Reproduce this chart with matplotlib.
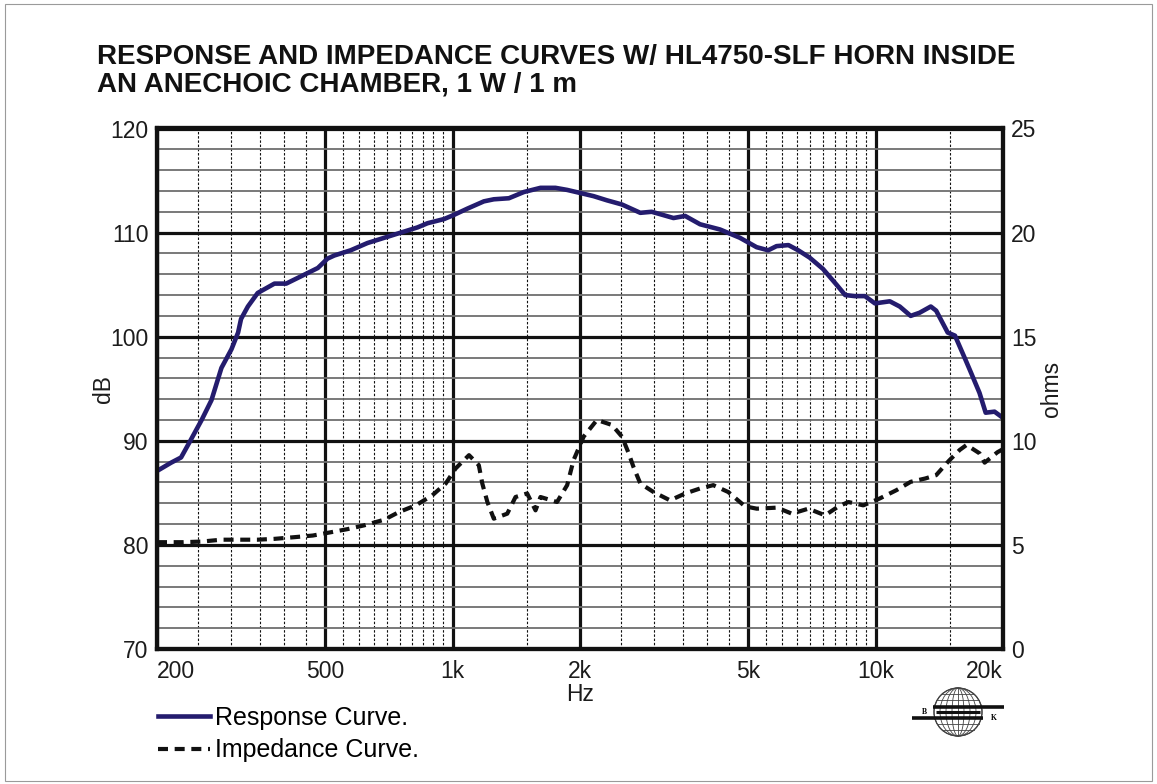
import numpy as np
import matplotlib
matplotlib.use("Agg")
import matplotlib.pyplot as plt
from matplotlib.patches import Ellipse, Rectangle

plt.rcParams['font.family'] = ['Liberation Sans', 'DejaVu Sans']

# response curve, dB SPL
resp_hz = [200, 216, 228, 239, 255, 269, 284, 300, 311, 316, 328, 346, 379, 404, 438,
           480, 506, 525, 574, 629, 689, 754, 826, 872, 954, 1007, 1083, 1185, 1251,
           1358, 1474, 1613, 1750, 1865, 2005, 2154, 2316, 2513, 2777, 2955, 3327,
           3545, 3845, 4285, 4776, 5230, 5570, 5830, 6220, 6560, 6980, 7510, 8080,
           8470, 8930, 9430, 9960, 10800, 11400, 12100, 12700, 13500, 13900, 14800,
           15400, 16300, 16700, 17600, 18200, 19100, 20000]
resp_db = [87.1, 87.9, 88.4, 89.9, 92.0, 93.9, 97.0, 98.8, 100.4, 101.7, 102.9, 104.2,
           105.1, 105.1, 105.8, 106.6, 107.5, 107.8, 108.3, 109.0, 109.5, 110.0, 110.5,
           110.9, 111.3, 111.7, 112.3, 113.0, 113.2, 113.3, 113.9, 114.3, 114.3, 114.1,
           113.8, 113.5, 113.1, 112.7, 111.9, 112.0, 111.4, 111.6, 110.8, 110.3, 109.5,
           108.6, 108.3, 108.7, 108.8, 108.3, 107.6, 106.5, 105.0, 104.0, 103.9, 103.9,
           103.2, 103.4, 102.9, 102.0, 102.3, 102.9, 102.5, 100.4, 100.1, 97.8, 96.8,
           94.6, 92.7, 92.8, 92.2]

# impedance curve, ohms
imp_hz = [200, 231, 255, 284, 313, 346, 379, 422, 467, 516, 565, 618, 689, 747, 818,
          895, 963, 1016, 1093, 1153, 1175, 1208, 1251, 1346, 1408, 1500, 1570, 1613,
          1765, 1865, 1931, 2040, 2193, 2380, 2513, 2607, 2675, 2777, 2984, 3265, 3545,
          3845, 4131, 4482, 4912, 5235, 5846, 6337, 6933, 7593, 8167, 8622, 9348, 10200,
          11200, 12100, 13100, 13900, 14900, 15800, 16400, 17600, 18100, 19400, 20000]
imp_ohm = [5.13, 5.13, 5.16, 5.25, 5.25, 5.25, 5.29, 5.37, 5.45, 5.61, 5.76, 5.94, 6.21,
           6.58, 6.90, 7.38, 7.95, 8.67, 9.31, 8.83, 7.95, 7.06, 6.26, 6.50, 7.30, 7.47,
           6.66, 7.30, 7.06, 7.87, 9.07, 10.2, 11.0, 10.76, 10.2, 9.40, 8.75, 7.95, 7.54,
           7.14, 7.47, 7.71, 7.87, 7.54, 6.85, 6.74, 6.79, 6.50, 6.74, 6.42, 6.85, 7.06,
           6.90, 7.22, 7.63, 8.03, 8.19, 8.35, 9.04, 9.56, 9.80, 9.40, 8.95, 9.45, 9.6]

x_ticks = [200, 500, 1000, 2000, 5000, 10000, 20000]
x_labels = ['200', '500', '1k', '2k', '5k', '10k', '20k']
db_ticks = [70, 80, 90, 100, 110, 120]
ohm_ticks = [0, 5, 10, 15, 20, 25]

W, H = 1157, 784
fig = plt.figure(figsize=(W / 100, H / 100), dpi=100)
fig.patches.append(Rectangle((5 / W, 3 / H), 1 - 10 / W, 1 - 7 / H, transform=fig.transFigure,
                             fill=False, edgecolor='#9a9a9a', lw=0.8))

L, R, T, B = 157, 1003, 128.5, 649
ax = fig.add_axes([L / W, 1 - B / H, (R - L) / W, (B - T) / H])
ax.set_xscale('log')
ax.set_xlim(200, 20000)
ax.set_ylim(70, 120)

minor_x = list(range(250, 1000, 50)) + list(range(1500, 10000, 500)) + [15000]
minor_x = [v for v in minor_x if v not in x_ticks]
ax.set_xticks(x_ticks)
ax.set_xticklabels(x_labels)
ax.set_xticks(minor_x, minor=True)
ax.set_yticks(db_ticks)
ax.set_yticks(np.arange(70, 121, 2), minor=True)
ax.xaxis.set_minor_formatter(plt.NullFormatter())

ax.grid(which='major', color='#111111', lw=2.3)
ax.xaxis.grid(which='minor', color='#111111', lw=0.8, ls=(0, (2.2, 1.6)))
ax.yaxis.grid(which='minor', color='#6e6e6e', lw=1.3)
ax.set_axisbelow(True)
ax.tick_params(which='both', length=0)
ax.tick_params(axis='y', labelsize=16.5, pad=6, labelcolor='#1c1c1c')
ax.tick_params(axis='x', labelsize=16.5, pad=8, labelcolor='#1c1c1c')
tl = ax.get_xticklabels()
tl[0].set_horizontalalignment('left')
tl[-1].set_horizontalalignment('right')

ax.set_xlabel('Hz', fontsize=16.5, labelpad=0, color='#1c1c1c')
ax.set_ylabel('dB', fontsize=16.5, labelpad=-3, color='#1c1c1c')

l1, = ax.plot(resp_hz, resp_db, color='#241c6e', lw=3.3, solid_joinstyle='round',
              label='Response Curve.', zorder=5)

ax2 = ax.twinx()
ax2.set_ylim(0, 25)
ax2.set_yticks(ohm_ticks)
ax2.tick_params(length=0, labelsize=16.5, pad=6, labelcolor='#1c1c1c')
ax2.set_ylabel('ohms', fontsize=16.5, labelpad=2, color='#1c1c1c')
l2, = ax2.plot(imp_hz, imp_ohm, color='#111111', lw=3.0, ls=(0, (2.4, 1.6)),
               label='Impedance Curve.', zorder=5)

for a in (ax, ax2):
    for s in a.spines.values():
        s.set_linewidth(3.0)
        s.set_color('#111111')

fig.legend(handles=[l1, l2], loc='upper left', bbox_to_anchor=(158 / W, 1 - 706 / H),
           frameon=False, fontsize=18, handlelength=2.08, handletextpad=0.2,
           labelspacing=0.34, borderpad=0, borderaxespad=0)

fig.text(97 / W, 1 - 44 / H,
         'RESPONSE AND IMPEDANCE CURVES W/ HL4750-SLF HORN INSIDE\nAN ANECHOIC CHAMBER, 1 W / 1 m',
         fontsize=20, fontweight='bold', va='top', ha='left', linespacing=1.1, color='#111111')

# small globe logo
lg = fig.add_axes([905 / W, 1 - 742 / H, 105 / W, 60 / H])
lg.set_xlim(905, 1010)
lg.set_ylim(742, 682)
lg.axis('off')
cx, cy, r = 958, 712, 24
lg.add_patch(Ellipse((cx, cy), 2 * r, 2 * r, fill=False, ec='#333333', lw=0.9))
for w in [0.25, 0.5, 0.75, 1.0]:
    lg.add_patch(Ellipse((cx, cy), 2 * r * w, 2 * r, fill=False, ec='#444444', lw=0.6))
lg.plot([cx, cx], [cy - r, cy + r], color='#444444', lw=0.6)
for dy in [-18, -12, -6, 6, 12, 18]:
    hw = np.sqrt(r ** 2 - dy ** 2)
    lg.plot([cx - hw, cx + hw], [cy + dy, cy + dy], color='#444444', lw=0.6)
lg.plot([933, 1004], [706.5, 706.5], color='#111111', lw=2.6, solid_capstyle='butt')
lg.plot([912, 983], [717.5, 717.5], color='#111111', lw=2.6, solid_capstyle='butt')
lg.plot([936, 980], [712, 712], color='#111111', lw=2.2, solid_capstyle='butt')
lg.text(924, 712, 'B', fontsize=5.5, fontweight='bold', family='Liberation Serif',
        ha='center', va='center')
lg.text(994, 718.5, 'K', fontsize=5.5, fontweight='bold', family='Liberation Serif',
        ha='center', va='center')

fig.savefig('out.png', dpi=100)
